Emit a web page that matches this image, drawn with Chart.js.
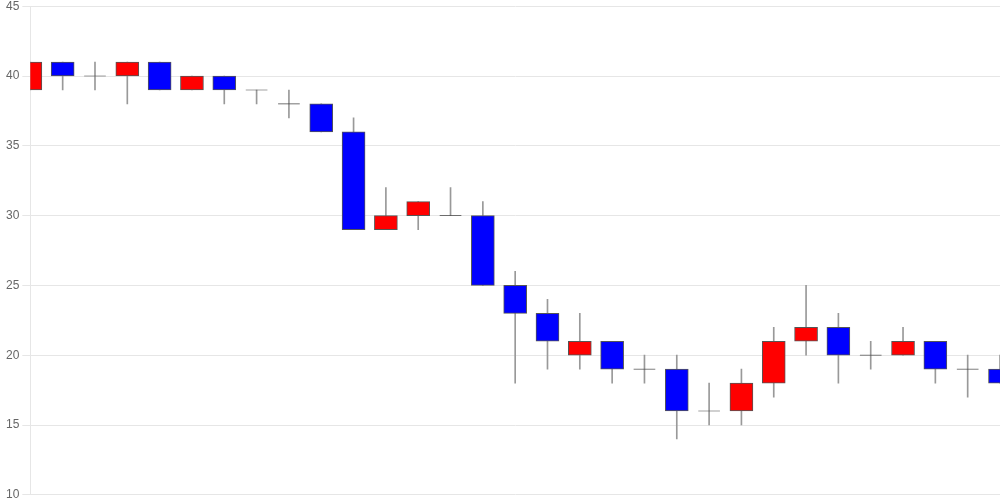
<!DOCTYPE html>
<html>
<head>
<meta charset="utf-8">
<script src="https://cdn.jsdelivr.net/npm/chart.js@4/dist/chart.umd.min.js"></script>
<style>
  html, body { margin:0; padding:0; background:#fff; }
  #wrap { width:1000px; height:500px; position:relative; overflow:hidden; }
  #inner { position:absolute; left:0; top:-4px; width:1000px; height:509px; }
</style>
</head>
<body>
<div id="wrap"><div id="inner"><canvas id="chart"></canvas></div></div>
<script>
// daily OHLC values
const days  = [1,2,3,4,5,6,7,8,9,10,11,12,13,14,15,16,17,18,19,20,21,22,23,24,25,26,27,28,29,30,31];
const opens  = [39,41,40,40,41,39,40,39,38,38,36,29,30,30,30,25,23,20,21,19,19,16,16,18,21,22,20,20,21,19,19];
const highs  = [41,41,41,41,41,40,40,39,39,38,37,32,31,32,31,26,24,23,21,20,20,18,19,22,25,23,21,22,21,20,20];
const lows   = [39,39,39,38,39,39,38,38,37,36,29,29,29,30,25,18,19,19,18,18,14,15,15,17,20,18,19,20,18,17,18];
const closes = [41,40,40,41,39,40,39,39,38,36,29,30,31,30,25,23,21,21,19,19,16,16,18,21,22,20,20,21,19,19,18];
const yTicks = [10,15,20,25,30,35,40,45];

const UP = '#ff0000', DOWN = '#0000ff';

function bodyRange(i){
    const o = opens[i], c = closes[i];
    if(o === c) return [o - 0.05, o + 0.05]; // doji: thin line
    return [Math.min(o,c), Math.max(o,c)];
}
function bodyColor(i){
    if(opens[i] === closes[i]) return '#444';
    return closes[i] > opens[i] ? UP : DOWN;
}

const labels = days.map(String);

new Chart(document.getElementById('chart').getContext('2d'), {
    type: 'bar',
    data: {
        labels: labels,
        datasets: [
            {
                label: 'body',
                data: days.map((d,i)=>bodyRange(i)),
                backgroundColor: days.map((d,i)=>bodyColor(i)),
                borderColor: days.map((d,i)=>opens[i]===closes[i] ? 'rgba(0,0,0,0)' : '#555'),
                borderWidth: 1,
                borderSkipped: false,
                barThickness: 23,
                grouped: false,
                order: 0
            },
            {
                label: 'wick',
                data: days.map((d,i)=>[lows[i], highs[i]]),
                backgroundColor: '#999',
                borderWidth: 0,
                barThickness: 1,
                grouped: false,
                order: 1
            }
        ]
    },
    options: {
        responsive: true,
        maintainAspectRatio: false,
        animation: false,
        layout: { padding: { left: 3 } },
        plugins: { legend: { display: false }, tooltip: { enabled: false } },
        scales: {
            x: {
                display: false,
                offset: false
            },
            y: {
                min: yTicks[0],
                max: yTicks[yTicks.length-1],
                afterBuildTicks: axis => { axis.ticks = yTicks.map(v=>({value:v})); },
                ticks: { color: '#666', font: { family: 'Liberation Sans, Arial', size: 12 } },
                grid: { color: '#e6e6e6' },
                border: { color: '#e6e6e6' }
            }
        }
    }
});
</script>
</body>
</html>
